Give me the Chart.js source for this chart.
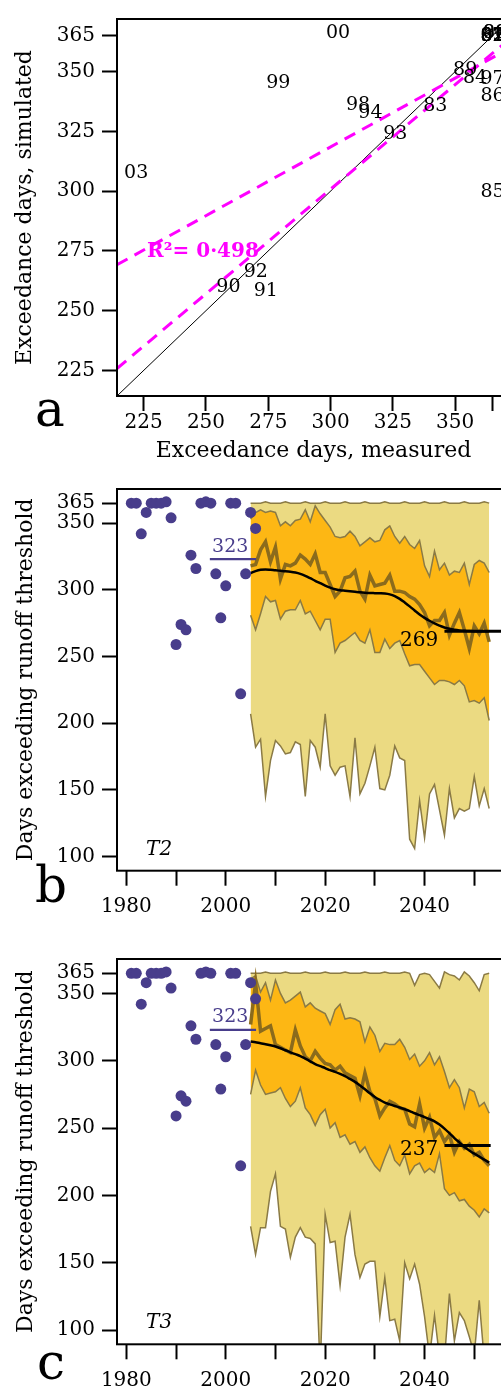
<!DOCTYPE html>
<html>
<head>
<meta charset="utf-8">
<script src="https://cdn.jsdelivr.net/npm/chart.js@4.4.1/dist/chart.umd.min.js"></script>
<style>
  html, body { margin: 0; padding: 0; background: #fff; overflow: hidden; width: 501px; height: 1391px; }
  #wrap { position: relative; width: 501px; height: 1391px; overflow: hidden; }
  canvas { position: absolute; left: 0; }
</style>
</head>
<body>
<div id="wrap">
  <canvas id="panelA" width="510" height="470" style="top:0px"></canvas>
  <canvas id="panelB" width="509" height="470" style="top:470px"></canvas>
  <canvas id="panelC" width="509" height="451" style="top:940px"></canvas>
</div>
<script>
// ---------- observed record ----------
const obsYears = [1981,1982,1983,1984,1985,1986,1987,1988,1989,1990,1991,1992,1993,
                  1994,1995,1996,1997,1998,1999,2000,2001,2002,2003,2004,2005,2006];
const obsDays  = [365,365,342,358,365,365,365,366,354,259,274,270,326,
                  316,365,366,365,312,279,303,365,365,222,312,358,346];

// ---------- panel a: measured vs simulated exceedance days ----------
const calYears  = [1981,1982,1983,1984,1985,1986,1987,1988,1989,1990,1991,1992,
                   1993,1994,1995,1996,1997,1998,1999,2000,2001,2002,2003];
const measured  = [365,365,342,358,365,365,365,366,354,259,274,270,
                   326,316,365,366,365,311,279,303,365,365,222];
const simulated = [365,365,335.6,347.5,299.5,339.6,365,366,350.5,260,258,266.3,
                   324,332.7,365,366,347,336,345,366,365,365,307.6];
const scatterTicks  = [225,250,275,300,325,350,365];
const scatterXLabels = [225,250,275,300,325,350];
const fitX      = [214.3, 372];
const fitUpper  = [269.2, 359.9];
const fitLower  = [225.8, 363.8];
const r2Text    = 'R\u00b2= 0\u00b7498';

// ---------- panels b, c: projected exceedance days ----------
const futYears = [];
for (let y = 2005; y <= 2053; y++) futYears.push(y);

const t2Max    = [365,365,365,366,365,365,365,366,365,365,365,366,365,365,365,366,365,365,365,366,
                  365,365,365,366,365,365,365,366,365,365,365,366,365,365,365,366,365,365,365,366,
                  365,365,365,366,365,365,365,366,365];
const t2Q75    = [353,358,360,358,359,358,348,351,348,352,353,360,351,363,357,352,347,340,339,340,
                  344,340,333,336,339,336,337,345,348,340,335,340,334,331,337,318,310,329,315,320,
                  311,314,313,320,304,319,322,320,313];
const t2Median = [318,319,330,336,321,332,308,319,318,320,326,323,319,327,313,313,304,295,299,309,
                  310,314,299,293,311,303,304,305,311,299,299,298,295,293,289,283,273,277,277,283,
                  266,275,283,270,256,273,267,275,261];
const t2Q25    = [281,270,282,295,291,292,278,284,285,285,292,282,284,277,270,278,278,253,260,262,
                  265,268,262,260,270,253,253,263,256,260,262,252,243,244,244,239,234,229,232,232,
                  231,229,232,228,216,217,215,219,202];
const t2Min    = [207,182,188,145,172,187,183,177,178,186,184,145,187,182,167,207,168,161,167,168,
                  145,189,147,155,168,182,151,150,161,183,174,172,113,106,142,114,147,154,135,116,
                  151,129,136,134,136,160,138,151,136];
const t2Smooth = [312.5,314,315,315.3,315,314.6,314.3,314,313.6,313,312,310.5,308.7,306.8,305,303.2,
                  301.6,300.4,299.7,299.3,298.9,298.5,298.1,297.8,297.6,297.5,297.4,297.2,296.6,295.3,
                  293.2,290.5,287.6,284.5,281.5,279,276.8,274.8,273.1,271.8,270.8,270.1,269.6,269.3,
                  269.1,269,269,269,269];
const t2Level  = 269;
const t2LevelYears = [2044, 2056];

const t3Max    = [365,365,365,366,365,365,365,366,365,365,365,366,365,365,365,366,365,365,365,366,
                  365,365,365,366,365,365,365,366,365,365,365,366,365,356,364,365,364,359,354,366,
                  364,363,360,366,363,358,352,364,365];
const t3Q75    = [361,363,351,358,345,360,350,343,345,348,351,340,343,339,337,335,327,338,342,331,
                  332,331,329,314,325,319,307,313,312,312,316,310,301,305,296,300,306,297,303,292,
                  280,286,280,265,279,277,266,269,261];
const t3Median = [327,358,322,324,326,312,310,308,306,323,311,303,300,307,302,298,297,293,296,291,
                  289,287,274,291,277,272,259,265,270,268,265,264,253,251,268,250,258,243,248,240,
                  245,232,240,235,238,230,232,226,222];
const t3Q25    = [275,293,282,275,276,277,280,272,266,270,280,265,260,252,260,264,250,254,243,245,
                  238,240,232,236,228,222,218,228,237,226,222,230,216,222,224,217,220,217,231,205,
                  200,202,196,197,192,189,184,190,187];
const t3Min    = [177,156,176,176,203,216,177,175,154,169,176,169,168,164,70,186,165,166,133,169,
                  186,156,139,149,151,151,110,139,107,108,92,150,138,149,134,110,80,111,80,78,
                  127,92,113,107,95,82,122,78,88];
const t3Smooth = [314.4,313.8,313,312.3,311.5,310.6,309.3,307.8,306.3,304.9,303.5,301.6,299.6,297.5,
                  296,294.6,293,291.8,290.3,288.6,286.5,284.3,281.6,278.8,275.8,273.1,270.9,268.9,
                  267.6,266.4,265.3,264,262.6,261,259.6,258.2,256.7,255,252.6,249.6,246.2,242.6,
                  239.3,236,233.4,231,228.8,226.6,224.3];
const t3Level  = 237;
const t3LevelYears = [2044, 2053.3];

const refLevel = 323;
const refYears = [1996.8, 2006.1];
const dayTicks   = [100,150,200,250,300,350,365];
const yearTicks  = [1980,1990,2000,2010,2020,2030,2040,2050];
const yearLabels = [1980,2000,2020,2040];

// ---------- styling ----------
const FONT = 'DejaVu Serif';
const PURPLE = '#483d8b';
const KHAKI = '#ebda82';
const ORANGE = '#fdb714';
const OLIVE = '#8a7a45';
const MEDIAN = '#8b6b1c';
const MAGENTA = '#ff00ff';

const xy = (xs, ys) => xs.map((x, i) => ({ x: x, y: ys[i] }));

// Box around the plotting region.
const framePlugin = {
  id: 'frame',
  afterDraw(chart) {
    const { ctx, chartArea: a } = chart;
    ctx.save();
    ctx.strokeStyle = '#000';
    ctx.lineWidth = 2;
    ctx.strokeRect(a.left, a.top, a.right - a.left, a.bottom - a.top);
    ctx.restore();
  }
};

// Free text placed at data coordinates, and year codes written at labelled points.
const notesPlugin = {
  id: 'notes',
  afterDatasetsDraw(chart, args, opts) {
    const { ctx } = chart;
    const xs = chart.scales.x, ys = chart.scales.y;
    ctx.save();
    (opts.items || []).forEach(n => {
      ctx.font = n.font;
      ctx.fillStyle = n.color || '#000';
      ctx.textAlign = n.align || 'center';
      ctx.textBaseline = 'middle';
      const px = n.px !== undefined ? n.px : xs.getPixelForValue(n.x);
      const py = n.py !== undefined ? n.py : ys.getPixelForValue(n.y);
      ctx.fillText(n.text, px, py);
    });
    chart.data.datasets.forEach((ds, di) => {
      if (!ds.pointText) return;
      const meta = chart.getDatasetMeta(di);
      ctx.font = '19px "' + FONT + '"';
      ctx.fillStyle = '#000';
      ctx.textAlign = 'center';
      ctx.textBaseline = 'middle';
      meta.data.forEach((el, i) => ctx.fillText(ds.pointText[i], el.x, el.y));
    });
    ctx.restore();
  }
};

function axisCommon(min, max, ticks, labelled, fitKey, fitVal, tickPad) {
  return {
    type: 'linear',
    min: min,
    max: max,
    afterBuildTicks: s => { s.ticks = ticks.map(v => ({ value: v })); },
    afterFit: s => { s[fitKey] = fitVal; },
    grid: { display: true, drawOnChartArea: false, drawTicks: true, tickLength: 15,
            tickWidth: 2, tickColor: '#000' },
    border: { display: false },
    ticks: { color: '#000', font: { family: FONT, size: 20 }, padding: tickPad,
             autoSkip: false, maxRotation: 0, minRotation: 0,
             callback: v => (labelled.indexOf(v) >= 0 ? String(v) : '') }
  };
}

// ---------- panel a ----------
(function () {
  const xScale = axisCommon(214.3, 372, scatterTicks, scatterXLabels, 'height', 74, 0);
  xScale.title = { display: true, text: 'Exceedance days, measured', color: '#000',
                   font: { family: FONT, size: 22 }, padding: { top: 0, bottom: 6 } };
  const yScale = axisCommon(214.3, 372, scatterTicks, scatterTicks, 'width', 117, 7);
  yScale.title = { display: true, text: 'Exceedance days, simulated', color: '#000',
                   font: { family: FONT, size: 22 }, padding: { top: 12, bottom: 0 } };
  new Chart(document.getElementById('panelA'), {
    type: 'line',
    data: {
      datasets: [
        { label: 'years', type: 'scatter', data: xy(measured, simulated), pointRadius: 0,
          pointHoverRadius: 0, pointText: calYears.map(y => String(y).slice(2)), order: 1 },
        { label: 'upper fit', data: xy(fitX, fitUpper), borderColor: MAGENTA, borderWidth: 3,
          borderDash: [12, 8], pointRadius: 0, order: 2 },
        { label: 'lower fit', data: xy(fitX, fitLower), borderColor: MAGENTA, borderWidth: 3,
          borderDash: [12, 8], pointRadius: 0, order: 3 },
        { label: '1:1', data: xy(fitX, fitX), borderColor: '#000', borderWidth: 1,
          pointRadius: 0, order: 4 }
      ]
    },
    options: {
      responsive: false, animation: false, devicePixelRatio: 1,
      layout: { padding: { top: 8, right: 0, bottom: 0, left: 0 } },
      scales: { x: xScale, y: yScale },
      plugins: {
        legend: { display: false }, tooltip: { enabled: false },
        notes: { items: [
          { text: r2Text, x: 248.8, y: 274.6, font: 'bold 20px "' + FONT + '"', color: MAGENTA },
          { text: 'a', px: 50, py: 413, font: '50px "' + FONT + '"' }
        ] }
      }
    },
    plugins: [framePlugin, notesPlugin]
  });
})();

// ---------- panels b and c ----------
function bandPanel(id, padTop, axisH, s, letter, letterY) {
  const xScale = axisCommon(1978.12, 2055.88, yearTicks, yearLabels, 'height', axisH, 9);
  const yScale = axisCommon(89.4, 375.6, dayTicks, dayTicks, 'width', 117, 7);
  yScale.title = { display: true, text: 'Days exceeding runoff threshold', color: '#000',
                   font: { family: FONT, size: 22 }, padding: { top: 13, bottom: 0 } };
  new Chart(document.getElementById(id), {
    type: 'line',
    data: {
      datasets: [
        { label: 'observed', type: 'scatter', data: xy(obsYears, obsDays), pointRadius: 5.5,
          pointHoverRadius: 5.5, pointBackgroundColor: PURPLE, pointBorderWidth: 0, order: 1 },
        { label: 'observed mean', data: xy(refYears, [refLevel, refLevel]), borderColor: PURPLE,
          borderWidth: 2.2, pointRadius: 0, order: 2 },
        { label: 'end level', data: xy(s.levelYears, [s.level, s.level]), borderColor: '#000',
          borderWidth: 3, pointRadius: 0, order: 3 },
        { label: 'smoothed', data: xy(futYears, s.smooth), borderColor: '#000', borderWidth: 2.5,
          pointRadius: 0, cubicInterpolationMode: 'monotone', order: 4 },
        { label: 'median', data: xy(futYears, s.median), borderColor: MEDIAN, borderWidth: 3.5,
          pointRadius: 0, order: 5 },
        { label: 'lower quartile', data: xy(futYears, s.q25), borderColor: OLIVE, borderWidth: 1.5,
          pointRadius: 0, order: 6 },
        { label: 'upper quartile', data: xy(futYears, s.q75), borderColor: OLIVE, borderWidth: 1.5,
          pointRadius: 0, fill: { target: 5 }, backgroundColor: ORANGE, order: 7 },
        { label: 'minimum', data: xy(futYears, s.min), borderColor: OLIVE, borderWidth: 1.5,
          pointRadius: 0, order: 8 },
        { label: 'maximum', data: xy(futYears, s.max), borderColor: OLIVE, borderWidth: 1.5,
          pointRadius: 0, fill: { target: 7 }, backgroundColor: KHAKI, order: 9 }
      ]
    },
    options: {
      responsive: false, animation: false, devicePixelRatio: 1,
      layout: { padding: { top: padTop, right: 0, bottom: 0, left: 0 } },
      scales: { x: xScale, y: yScale },
      plugins: {
        legend: { display: false }, tooltip: { enabled: false },
        filler: { propagate: false },
        notes: { items: [
          { text: String(refLevel), x: 2000.9, y: 332.2, font: '19px "' + FONT + '"', color: PURPLE },
          { text: String(s.level), x: 2038.9, y: s.labelY, font: '20px "' + FONT + '"' },
          { text: s.tag, x: 1986.6, y: 105.3, font: 'italic 20px "' + FONT + '"' },
          { text: letter, px: 51, py: letterY, font: '50px "' + FONT + '"' }
        ] }
      }
    },
    plugins: [framePlugin, notesPlugin]
  });
}

bandPanel('panelB', 12, 69.3, {
  max: t2Max, q75: t2Q75, median: t2Median, q25: t2Q25, min: t2Min, smooth: t2Smooth,
  level: t2Level, levelYears: t2LevelYears, labelY: 262, tag: 'T2'
}, 'b', 419);

bandPanel('panelC', 15.7, 46.7, {
  max: t3Max, q75: t3Q75, median: t3Median, q25: t3Q25, min: t3Min, smooth: t3Smooth,
  level: t3Level, levelYears: t3LevelYears, labelY: 234.2, tag: 'T3'
}, 'c', 426);
</script>
</body>
</html>
